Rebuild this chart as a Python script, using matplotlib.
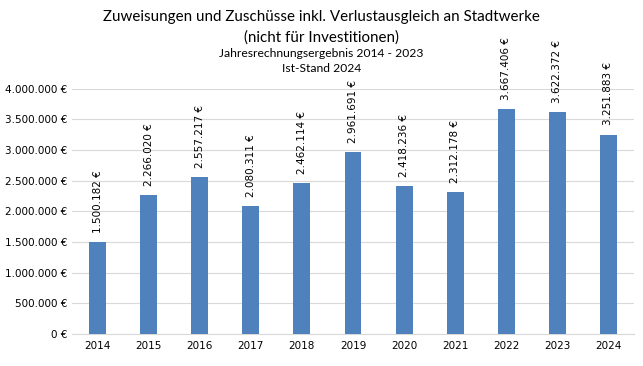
import matplotlib
matplotlib.use("Agg")
import matplotlib.pyplot as plt
from matplotlib.ticker import FuncFormatter

# Data
jahre = ["2014", "2015", "2016", "2017", "2018", "2019", "2020", "2021", "2022", "2023", "2024"]
werte = [1500182, 2266020, 2557217, 2080311, 2462114, 2961691, 2418236, 2312178, 3667406, 3622372, 3251883]


def euro(v):
    return "{:,.0f} €".format(v).replace(",", ".")


fig = plt.figure(figsize=(6.43, 3.66), dpi=100)
ax = fig.add_axes([0.112, 0.0874, 0.874, 0.67])

x = range(len(jahre))
bars = ax.bar(x, werte, width=0.33, color="#4F81BD", zorder=3)

for xi, v in zip(x, werte):
    ax.text(xi, v + 150000, euro(v), rotation=90, ha="center", va="bottom",
            fontsize=7.5, family="DejaVu Sans", clip_on=False)

ax.set_xlim(-0.5, len(jahre) - 0.5)
ax.set_ylim(0, 4000000)
ax.set_yticks(range(0, 4000001, 500000))
ax.yaxis.set_major_formatter(FuncFormatter(lambda v, p: euro(v)))
ax.set_xticks(list(x))
ax.set_xticklabels(jahre)
ax.tick_params(axis="both", length=0, labelsize=7.5, colors="#000000")
ax.tick_params(axis="x", pad=5)
ax.grid(axis="y", color="#D9D9D9", linewidth=0.8, zorder=0)
for s in ["top", "right", "left"]:
    ax.spines[s].set_visible(False)
ax.spines["bottom"].set_color("#D9D9D9")

tfont = ["Lato", "DejaVu Sans"]
fig.text(0.5, 0.953, "Zuweisungen und Zuschüsse inkl. Verlustausgleich an Stadtwerke",
         ha="center", va="center", fontsize=10.9, family=tfont)
fig.text(0.5, 0.898, "(nicht für Investitionen)", ha="center", va="center",
         fontsize=10.9, family=tfont)
fig.text(0.5, 0.853, "Jahresrechnungsergebnis 2014 - 2023", ha="center", va="center",
         fontsize=8.7, family=tfont)
fig.text(0.5, 0.812, "Ist-Stand 2024", ha="center", va="center",
         fontsize=8.7, family=tfont)

fig.savefig("out.png", dpi=100)
